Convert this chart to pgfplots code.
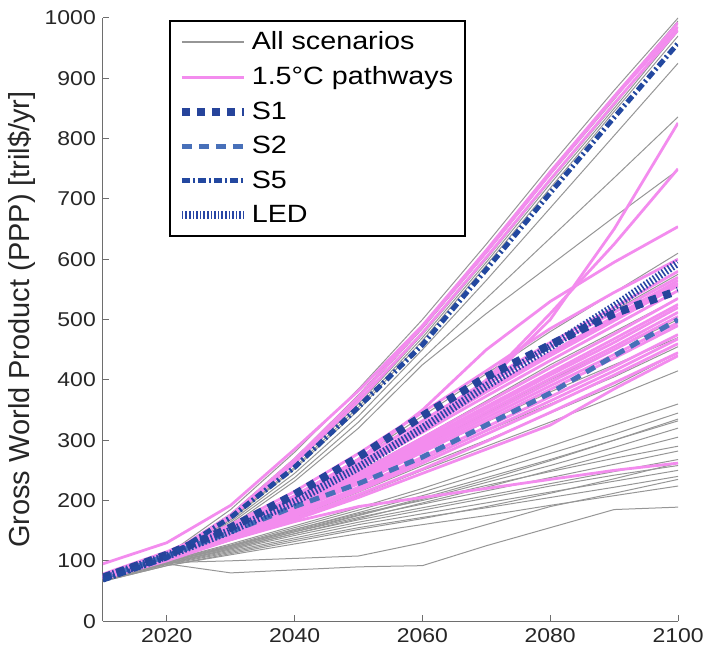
\documentclass[border=0pt]{standalone}
\usepackage{fontspec}
\setmainfont[FakeStretch=1.15]{Liberation Sans}
\newfontfamily\labelfont{Liberation Sans}
\usepackage{pgfplots}
\pgfplotsset{compat=1.18}
\usepackage{pgfplotstable}

\definecolor{grayline}{RGB}{150,150,150}
\definecolor{pinkline}{RGB}{243,140,238}
\definecolor{sone}{RGB}{38,68,155}
\definecolor{stwo}{RGB}{72,112,185}
\definecolor{sfive}{RGB}{35,72,160}
\definecolor{led}{RGB}{40,70,165}
\definecolor{axgray}{RGB}{110,110,110}

\pgfplotstableread{
year t1 t2 t3 t4 t5 t6 t7 t8 t9 m1 m2 m3 m4 m5 m6 m7 m8 l1 l2 l3 l4 l5 l6 l7 l8 l9 l10 l11 l12 l13 l14 l15 l16
2010 72 72 70 70 68 72 70 70 68 70 70 70 68 68 68 68 68 70 70 70 68 68 70 70 68 68 68 66 66 72 70 66 70
2020 110 108 106 105 104 108 104 104 102 106 105 104 104 102 102 102 100 100 100 98 98 96 98 98 96 96 95 94 92 95 97 92 98
2030 185 175 172 170 168 178 165 162 158 150 148 145 142 140 138 136 134 128 126 124 122 120 125 122 120 118 116 114 110 80 100 112 124
2040 280 265 260 255 252 270 245 238 232 205 200 192 186 182 178 172 170 158 155 152 148 145 152 148 145 142 138 135 128 85 104 132 150
2050 385 370 360 355 350 375 340 330 320 270 260 248 238 230 222 214 208 188 184 180 175 170 178 172 168 164 160 155 145 90 108 152 176
2060 500 485 475 470 465 490 450 435 425 340 325 305 290 280 268 258 250 220 214 208 202 196 200 194 188 184 178 172 160 92 130 170 204
2070 625 610 600 595 590 615 565 535 510 410 390 365 345 330 315 300 290 255 246 238 230 222 225 216 208 204 196 188 175 125 160 190 234
2080 755 740 730 725 718 745 685 635 590 480 455 425 400 380 360 345 330 290 278 268 258 250 248 238 228 224 214 205 192 155 190 212 266
2090 880 865 855 850 845 870 805 735 670 545 515 480 450 425 405 390 372 325 310 300 288 278 270 260 248 242 232 222 208 185 212 236 300
2100 1000 992 985 978 970 995 925 836 748 610 575 535 500 470 455 445 415 360 345 332 320 305 290 282 268 258 250 240 224 189 235 262 335
}\graydata

\pgfplotstableread{
year pt1 pt2 pt3 pm1 pm2 pm3 pm4 pm5 pm6 pm7 pm8 pm9 pm10 pm11 pm12 pm13 pm14 pm15 pm16 pm17 pm18 pd1 pd2 pd3 pd4 pd5
2010 95 72 70 78 76 75 74 74 73 73 72 72 72 70 76 74 73 72 75 73 71 72 72 74 70 70
2020 130 108 106 115 113 112 110 110 108 108 106 106 105 104 112 110 108 106 111 107 105 106 106 110 100 104
2030 192 176 172 160 156 153 150 148 146 144 142 140 138 136 155 151 147 143 152 145 139 150 148 155 135 135
2040 285 268 262 215 208 202 198 194 190 186 182 178 174 170 205 199 192 184 200 188 176 200 196 205 165 168
2050 382 372 365 278 268 260 253 246 240 234 228 222 216 210 262 255 243 232 257 237 219 258 252 268 190 205
2060 490 488 478 346 332 322 313 304 296 288 280 272 262 252 326 318 300 284 320 292 267 320 318 350 205 245
2070 615 612 603 415 398 385 373 362 352 342 332 322 310 298 392 380 356 337 383 347 316 395 400 450 220 285
2080 745 742 732 485 462 445 432 420 408 396 384 372 358 346 455 440 412 390 443 402 365 500 510 530 235 325
2090 870 868 858 545 520 505 490 476 462 450 436 422 408 395 512 498 468 442 502 455 415 650 625 595 250 385
2100 992 985 980 600 580 565 548 535 520 505 490 475 460 445 570 556 525 495 560 512 468 826 750 654 262 440
}\pinkdata

\pgfplotstableread{
year S1 S2 S5 LED
2010 72 72 68 72
2020 110 108 105 108
2030 155 148 172 150
2040 210 190 255 198
2050 272 228 355 255
2060 340 272 458 320
2070 405 325 583 390
2080 458 378 710 455
2090 510 440 835 522
2100 548 500 958 594
}\bluedata

\tikzset{
  s1style/.style={sone, line width=4pt, dash pattern=on 4pt off 3.5pt},
  s2style/.style={stwo, line width=2.5pt, dash pattern=on 5pt off 3.5pt},
  s5style/.style={sfive, line width=2.5pt, dash pattern=on 4pt off 1.5pt on 1pt off 1.5pt},
  ledstyle/.style={led, line width=4pt, dash pattern=on 0.8pt off 1pt},
}

\begin{document}
\begin{tikzpicture}
\begin{axis}[
  scale only axis,
  width=288pt, height=302pt,
  xmin=2010, xmax=2100, ymin=0, ymax=1000,
  xtick={2020,2040,...,2100},
  ytick={0,100,...,1000},
  axis x line*=bottom, axis y line*=left,
  tick align=inside,
  major tick length=3pt,
  axis line style={draw=axgray, line width=0.6pt},
  tick style={draw=axgray, line width=0.5pt},
  /pgf/number format/assume math mode=true,
  /pgf/number format/1000 sep={},
  ticklabel style={font=\fontsize{10}{12}\selectfont, text=black!85},
  ylabel={Gross World Product (PPP) [tril\$/yr]},
  ylabel shift=-2.5pt,
  ylabel style={font=\labelfont\fontsize{14.5}{16}\selectfont, text=black!85},
  legend image code/.code={\draw[#1] (0pt,0pt) -- (31pt,0pt);},
  legend style={at={(0.115,0.997)}, anchor=north west, draw=black,
    line width=0.9pt, font=\fontsize{12.5}{14.5}\selectfont,
    row sep=3pt, inner xsep=4pt, inner ysep=3.5pt},
  legend cell align=left,
]
\addlegendimage{grayline, line width=0.8pt}
\addlegendentry{All scenarios}
\addlegendimage{pinkline, line width=1.6pt}
\addlegendentry{1.5°C pathways}
\addlegendimage{s1style}
\addlegendentry{S1}
\addlegendimage{s2style}
\addlegendentry{S2}
\addlegendimage{s5style}
\addlegendentry{S5}
\addlegendimage{ledstyle}
\addlegendentry{LED}

\pgfplotsinvokeforeach{t1,t2,t3,t4,t5,t6,t7,t8,t9,m1,m2,m3,m4,m5,m6,m7,m8,l1,l2,l3,l4,l5,l6,l7,l8,l9,l10,l11,l12,l13,l14,l15,l16}{
  \addplot[grayline, line width=0.5pt, forget plot] table[x=year, y=#1]{\graydata};
}
\pgfplotsinvokeforeach{pt1,pt2,pt3,pm1,pm2,pm3,pm4,pm5,pm6,pm7,pm8,pm9,pm10,pm11,pm12,pm13,pm14,pm15,pm16,pm17,pm18,pd1,pd2,pd3,pd4,pd5}{
  \addplot[pinkline, line width=1.4pt, forget plot] table[x=year, y=#1]{\pinkdata};
}
\addplot[s2style, forget plot] table[x=year, y=S2]{\bluedata};
\addplot[ledstyle, forget plot] table[x=year, y=LED]{\bluedata};
\addplot[s1style, forget plot] table[x=year, y=S1]{\bluedata};
\addplot[s5style, forget plot] table[x=year, y=S5]{\bluedata};
\end{axis}
\pgfresetboundingbox
\useasboundingbox ([xshift=-51.5pt,yshift=-15.5pt]current axis.south west) rectangle ([xshift=13pt,yshift=9pt]current axis.north east);
\end{tikzpicture}
\end{document}
